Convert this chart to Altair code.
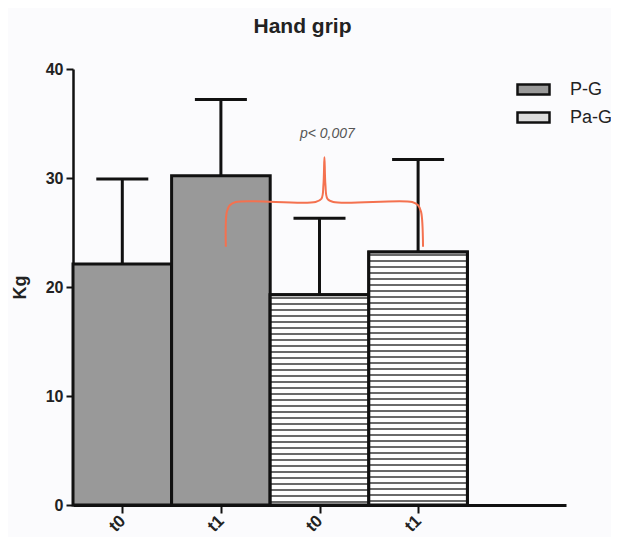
import json
import altair as alt
import pandas as pd

# ---- data ----
groups = ["P-G", "P-G", "Pa-G", "Pa-G"]
times = ["t0", "t1", "t0", "t1"]
means = [22.1, 30.2, 19.3, 23.2]
sds = [7.8, 7.0, 7.0, 8.5]

# significance bracket (data coordinates)
bracket_x = [1.55, 1.56, 1.59, 1.65, 2.46, 2.52, 2.54, 2.55, 2.56, 2.58, 2.64,
             3.44, 3.50, 3.53, 3.55]
bracket_y = [23.7, 26.9, 27.5, 27.8, 27.8, 28.1, 29.4, 31.9, 29.4, 28.1, 27.8,
             27.8, 27.5, 26.9, 23.7]
p_text = "p< 0,007"
p_pos = (2.58, 34.0)

W, H = 493, 436
YMAX = 40
FONT = "Liberation Sans"

df = pd.DataFrame({
    "idx": list(range(len(means))),
    "group": groups,
    "time": times,
    "mean": means,
    "sd": sds,
})
df["x0"] = df["idx"]
df["x1"] = df["idx"] + 1
df["xc"] = df["idx"] + 0.5
df["top"] = df["mean"] + df["sd"]

br = pd.DataFrame({"x": bracket_x, "y": bracket_y, "o": list(range(len(bracket_x)))})
pt = pd.DataFrame({"x": [p_pos[0]], "y": [p_pos[1]], "t": [p_text]})

label_expr = json.dumps(times) + "[floor(datum.value)]"

xscale = alt.Scale(domain=[0, 5], nice=False, zero=False)
yscale = alt.Scale(domain=[0, YMAX], nice=False)

xaxis = alt.Axis(values=[0.5, 1.5, 2.5, 3.5], labelExpr=label_expr, title=None,
                 grid=False, labelAngle=-45, labelAlign="right", labelBaseline="middle",
                 labelFont=FONT, labelFontSize=17, labelFontWeight="bold",
                 labelColor="#222", labelPadding=5,
                 domainColor="#111", domainWidth=3, tickColor="#111", tickWidth=2,
                 tickSize=8)
yaxis = alt.Axis(values=[0, 10, 20, 30, 40], title="Kg", grid=False,
                 labelFont=FONT, labelFontSize=16, labelFontWeight="bold",
                 labelColor="#222", labelPadding=3,
                 titleFont=FONT, titleFontSize=18, titleFontWeight="bold",
                 titleColor="#222", titlePadding=16,
                 domainColor="#111", domainWidth=2.5, tickColor="#111", tickWidth=2,
                 tickSize=7)

base = alt.Chart(df)

bars = base.mark_bar(stroke="#111", strokeWidth=3).encode(
    x=alt.X("x0:Q", scale=xscale, axis=xaxis),
    x2="x1:Q",
    y=alt.Y("mean:Q", scale=yscale, axis=yaxis),
    y2=alt.datum(0),
    fill=alt.Fill("group:N",
                  scale=alt.Scale(domain=["P-G", "Pa-G"], range=["#999999", "#dcdcdc"]),
                  legend=alt.Legend(title=None, orient="none", legendX=449, legendY=9,
                                    symbolType="M-1.6,-0.5H1.6V0.5H-1.6Z",
                                    symbolSize=400, symbolStrokeColor="#111",
                                    symbolStrokeWidth=2.5, symbolOpacity=1,
                                    labelFont=FONT, labelFontSize=18,
                                    labelColor="#222", labelOffset=25,
                                    rowPadding=6, padding=0)),
)

# horizontal hatching of the Pa-G bars, built as a striped gradient fill
def stripes(value, period=6.0, thick=2.0):
    hpx = value * H / YMAX
    stops = [alt.GradientStop(color="white", offset=0)]
    k = 0
    while True:
        a = (k * period + 2.0) / hpx
        b = (k * period + 2.0 + thick) / hpx
        if b >= 1:
            break
        stops += [alt.GradientStop(color="white", offset=a),
                  alt.GradientStop(color="#6a6a6a", offset=a),
                  alt.GradientStop(color="#6a6a6a", offset=b),
                  alt.GradientStop(color="white", offset=b)]
        k += 1
    stops.append(alt.GradientStop(color="white", offset=1))
    return alt.LinearGradient(gradient="linear", stops=stops, x1=0, x2=0, y1=0, y2=1)

hatch_layers = []
for i, g in enumerate(groups):
    if g != "Pa-G":
        continue
    hatch_layers.append(
        base.transform_filter(alt.datum.idx == i).mark_bar(
            fill=stripes(means[i]), stroke="#111", strokeWidth=3
        ).encode(x=alt.X("x0:Q", scale=xscale), x2="x1:Q",
                 y=alt.Y("mean:Q", scale=yscale), y2=alt.datum(0))
    )

err = base.mark_rule(color="#111", strokeWidth=3).encode(
    x=alt.X("xc:Q", scale=xscale), y=alt.Y("mean:Q", scale=yscale), y2="top:Q")
caps = base.mark_tick(color="#111", thickness=3, size=52, orient="horizontal",
                      opacity=1).encode(
    x=alt.X("xc:Q", scale=xscale), y=alt.Y("top:Q", scale=yscale))

bracket = alt.Chart(br).mark_line(color="#f4714f", strokeWidth=2,
                                  interpolate="catmull-rom").encode(
    x=alt.X("x:Q", scale=xscale), y=alt.Y("y:Q", scale=yscale), order="o:Q")

ptext = alt.Chart(pt).mark_text(font=FONT, fontSize=14, fontStyle="italic",
                                color="#555").encode(
    x=alt.X("x:Q", scale=xscale), y=alt.Y("y:Q", scale=yscale), text="t:N")

chart = alt.layer(bars, *hatch_layers, err, caps, bracket, ptext).properties(
    width=W, height=H,
    title=alt.TitleParams("Hand grip", font=FONT, fontSize=21, fontWeight="bold",
                          color="#222", anchor="middle", dx=-17, offset=24),
    autosize=alt.AutoSizeParams(type="none"),
    padding={"left": 65, "top": 61, "right": 45, "bottom": 32},
    background="#fbfbfd",
).configure_view(stroke=None)

chart.save("out.html", embed_options={"renderer": "svg", "actions": False})
